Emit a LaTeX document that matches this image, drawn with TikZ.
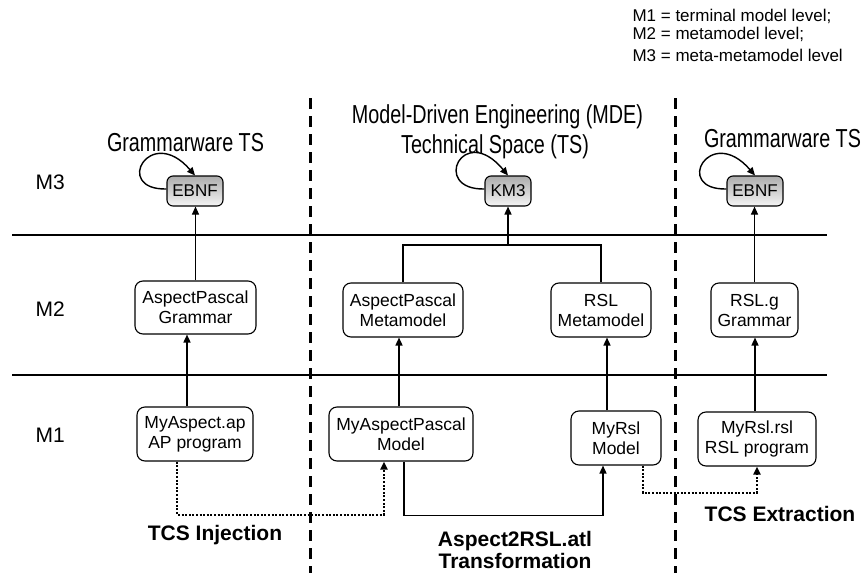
\documentclass[tikz,border=0pt]{standalone}
\usepackage{fontspec}
\setmainfont{Liberation Sans}
\newfontfamily\narrowsans[FakeStretch=0.76]{Liberation Sans}
\usetikzlibrary{arrows.meta}

\begin{document}
\begin{tikzpicture}[x=1pt,y=-1pt,
  box/.style={draw, rounded corners=8pt, line width=1.1pt, fill=white,
    align=center, inner sep=0pt, font=\fontsize{17.5}{20}\selectfont},
  meta/.style={draw, rounded corners=6pt, line width=1.1pt,
    top color=gray!65, bottom color=gray!8, inner sep=0pt,
    minimum height=30pt, font=\fontsize{17}{20}\selectfont},
  tip/.style={-{Triangle[length=8pt,width=7pt]}},
  conn/.style={line width=1.5pt, tip},
  thinconn/.style={line width=1.1pt, tip},
  plain/.style={line width=1.3pt},
  dots/.style={line width=2pt, dash pattern=on 2pt off 1.6pt, tip},
  selfloop/.style={line width=1.4pt, tip},
  level/.style={line width=1.2pt},
  divider/.style={line width=3pt, dash pattern=on 11pt off 7pt},
  title/.style={anchor=base, font=\narrowsans\fontsize{26}{30}\selectfont},
  levelname/.style={anchor=base west, font=\fontsize{21}{24}\selectfont},
  legend/.style={anchor=base west, font=\fontsize{17}{20}\selectfont},
  caption/.style={anchor=base, align=center, font=\bfseries\fontsize{21}{22}\selectfont}
]
\useasboundingbox (0,0) rectangle (862,573);

% legend
\node[legend] (leg1) at (629,21) {M1 = terminal model level;};
\node[legend] (leg2) at (629,39) {M2 = metamodel level;};
\node[legend] (leg3) at (629,61) {M3 = meta-metamodel level};

% level separators and technical-space dividers
\draw[level] (12,235) -- (827,235);
\draw[level] (12,375) -- (827,375);
\draw[divider] (310,98) -- (310,573);
\draw[divider] (675,98) -- (675,573);

% level names
\node[levelname] (m3) at (32,189) {M3};
\node[levelname] (m2) at (32,316) {M2};
\node[levelname] (m1) at (32,442) {M1};

% technical space titles
\node[title] (tsL) at (185.5,151) {Grammarware TS};
\node[title] (tsM1) at (497.5,123) {Model-Driven Engineering (MDE)};
\node[title] (tsM2) at (495,153) {Technical Space (TS)};
\node[title] (tsR) at (782.5,147) {Grammarware TS};

% M3 metametamodels
\node[meta, minimum width=56pt] (ebnfL) at (195,191) {EBNF};
\node[meta, minimum width=46pt] (km3) at (508,191) {KM3};
\node[meta, minimum width=56pt] (ebnfR) at (755,191) {EBNF};

% M2 metamodels and grammars
\node[box, minimum width=121pt, minimum height=53pt] (apg) at (195.5,307.5) {AspectPascal\\Grammar};
\node[box, minimum width=120pt, minimum height=54pt] (apm) at (403,310) {AspectPascal\\Metamodel};
\node[box, minimum width=100pt, minimum height=54pt] (rslm) at (601,310) {RSL\\Metamodel};
\node[box, minimum width=87pt, minimum height=54pt] (rslg) at (754.5,310) {RSL.g\\Grammar};

% M1 models and programs
\node[box, minimum width=116pt, minimum height=54pt] (myap) at (195,434) {MyAspect.ap\\AP program};
\node[box, minimum width=144pt, minimum height=54pt] (mapm) at (401,434) {MyAspectPascal\\Model};
\node[box, minimum width=90pt, minimum height=54pt] (myrsl) at (616,438) {MyRsl\\Model};
\node[box, minimum width=118pt, minimum height=54pt] (myrslrsl) at (757,439) {MyRsl.rsl\\RSL program};

% self conformance loops
\draw[selfloop] ([yshift=2pt]ebnfL.west) .. controls +(-54,1) and +(-45,-52) .. (ebnfL.north);
\draw[selfloop] ([yshift=2pt]km3.west) .. controls +(-54,1) and +(-45,-54) .. (km3.north);
\draw[selfloop] ([yshift=2pt]ebnfR.west) .. controls +(-54,1) and +(-45,-52) .. (ebnfR.north);

% conformance: M2 -> M3
\draw[thinconn] (apg.north) -- (apg.north |- ebnfL.south);
\coordinate (bus) at (508,245);
\draw[plain] (apm.north) |- (bus) -| (rslm.north);
\draw[conn] (bus) -- (km3.south);
\draw[thinconn] (rslg.north) -- (rslg.north |- ebnfR.south);

% conformance: M1 -> M2
\draw[conn] ([xshift=-8pt]myap.north) -- ([xshift=-8pt]myap.north |- apg.south);
\draw[conn] ([xshift=-2pt]mapm.north) -- ([xshift=-2pt]mapm.north |- apm.south);
\draw[conn] ([xshift=-9pt]myrsl.north) -- ([xshift=-9pt]myrsl.north |- rslm.south);
\draw[conn] ([xshift=-2pt]myrslrsl.north) -- ([xshift=-2pt]myrslrsl.north |- rslg.south);

% injection, transformation and extraction
\draw[dots] ([xshift=-18pt]myap.south) -- ++(0,53) -| ([xshift=-17pt]mapm.south);
\draw[conn] ([xshift=3pt]mapm.south) -- ++(0,54) -| ([xshift=-13pt]myrsl.south);
\draw[dots] ([xshift=27pt]myrsl.south) -- ++(0,27) -| (myrslrsl.south);

\node[caption] (inj) at (215,540) {TCS Injection};
\node[caption] (trans) at (515,568) {Aspect2RSL.atl\\Transformation};
\node[caption] (ext) at (780,521) {TCS Extraction};
\end{tikzpicture}
\end{document}
